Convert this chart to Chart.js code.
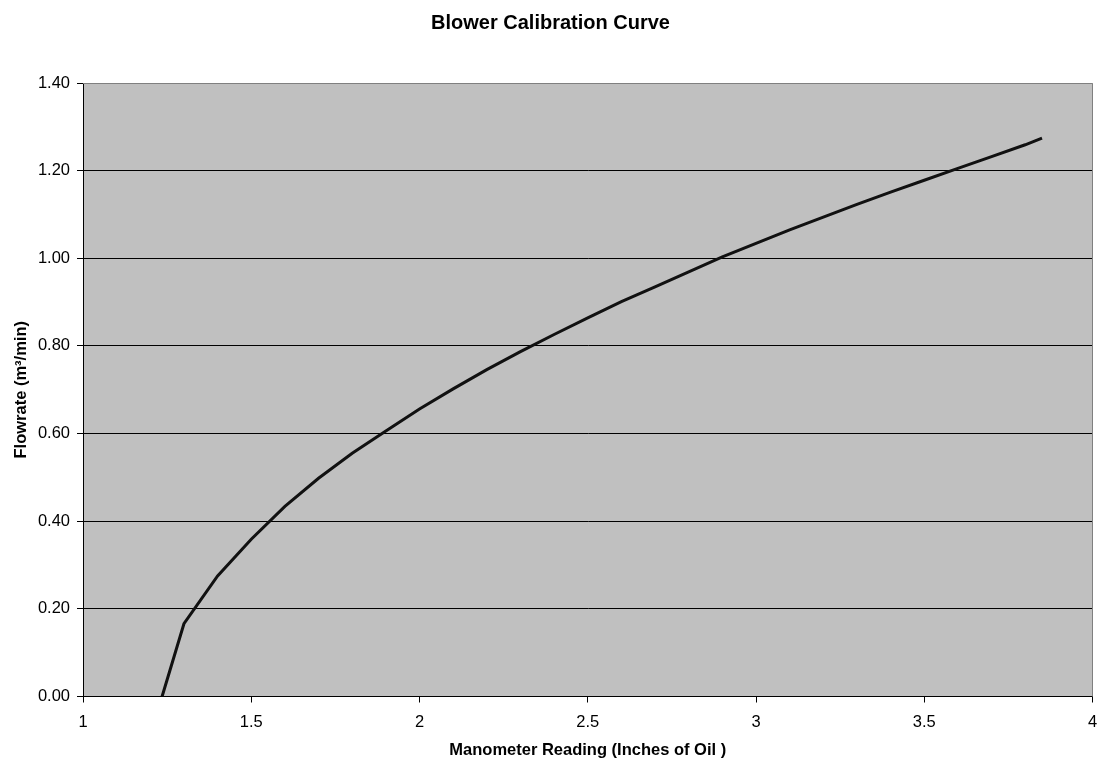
<!DOCTYPE html>
<html>
<head>
<meta charset="utf-8">
<title>Blower Calibration Curve</title>
<script src="https://cdn.jsdelivr.net/npm/chart.js@4/dist/chart.umd.min.js"></script>
<style>
  html, body { margin: 0; padding: 0; background: #ffffff; }
  #wrap { width: 1101px; height: 760px; }
</style>
</head>
<body>
<div id="wrap"><canvas id="chart" width="1101" height="760"></canvas></div>
<script>
// Manometer reading (inches of oil) and the matching blower flowrate (m3/min)
const manometerReading = [1.235, 1.3, 1.4, 1.5, 1.6, 1.7, 1.8, 1.9, 2.0, 2.1, 2.2, 2.3, 2.4, 2.5, 2.6, 2.7, 2.8, 2.9, 3.0, 3.1, 3.2, 3.3, 3.4, 3.5, 3.6, 3.7, 3.8, 3.85];
const flowrate        = [0.000, 0.166, 0.275, 0.359, 0.434, 0.498, 0.555, 0.606, 0.656, 0.702, 0.746, 0.787, 0.826, 0.864, 0.901, 0.935, 0.969, 1.003, 1.034, 1.065, 1.094, 1.123, 1.151, 1.178, 1.205, 1.232, 1.259, 1.274];

// Axis ranges and tick spacing
const xTicks = [1, 1.5, 2, 2.5, 3, 3.5, 4];
const yTicks = [0.00, 0.20, 0.40, 0.60, 0.80, 1.00, 1.20, 1.40];

const FONT = '"Liberation Sans", Arial, Helvetica, sans-serif';

const points = manometerReading.map((x, i) => ({ x: x, y: flowrate[i] }));

// Grey plot area with a grey frame on the top and right edges
const plotArea = {
  id: 'plotArea',
  beforeDraw(chart) {
    const { ctx, chartArea: a } = chart;
    ctx.save();
    ctx.fillStyle = '#c0c0c0';
    ctx.fillRect(a.left, a.top, a.right - a.left, a.bottom - a.top);
    ctx.restore();
  },
  beforeDatasetsDraw(chart) {
    const { ctx, chartArea: a } = chart;
    ctx.save();
    ctx.strokeStyle = '#808080';
    ctx.lineWidth = 1;
    ctx.beginPath();
    const r = Math.round(a.right) - 0.5;
    const t = Math.round(a.top) + 0.5;
    ctx.moveTo(a.left, t);
    ctx.lineTo(r, t);
    ctx.lineTo(r, a.bottom);
    ctx.stroke();
    ctx.restore();
  }
};

new Chart(document.getElementById('chart'), {
  type: 'scatter',
  data: {
    datasets: [{
      label: 'Flowrate',
      data: points,
      showLine: true,
      borderColor: '#111111',
      borderWidth: 3,
      pointRadius: 0,
      pointHoverRadius: 0,
      tension: 0,
      fill: false
    }]
  },
  options: {
    responsive: false,
    animation: false,
    layout: { padding: { left: 0, right: 0, top: 0, bottom: 0 } },
    plugins: {
      legend: { display: false },
      tooltip: { enabled: false },
      title: {
        display: true,
        text: 'Blower Calibration Curve',
        color: '#000000',
        font: { family: FONT, size: 20, weight: 'bold', lineHeight: 1.2 },
        padding: { top: 11, bottom: 48 }
      }
    },
    scales: {
      x: {
        type: 'linear',
        min: xTicks[0],
        max: xTicks[xTicks.length - 1],
        afterBuildTicks(scale) { scale.ticks = xTicks.map(v => ({ value: v })); },
        afterFit(scale) {
          scale.height = 63.5;
          scale.paddingLeft = 0;
          scale.paddingRight = 8.5;
        },
        ticks: {
          color: '#000000',
          padding: 10.5,
          maxRotation: 0,
          font: { family: FONT, size: 16.5 },
          callback: v => String(v)
        },
        grid: {
          drawOnChartArea: false,
          drawTicks: true,
          tickLength: 6,
          tickColor: '#000000'
        },
        border: { display: true, color: '#000000', width: 1 },
        title: {
          display: true,
          text: 'Manometer Reading (Inches of Oil )',
          color: '#000000',
          font: { family: FONT, size: 16.5, weight: 'bold', lineHeight: 1.2 },
          padding: { top: 0, bottom: 0 }
        }
      },
      y: {
        type: 'linear',
        min: yTicks[0],
        max: yTicks[yTicks.length - 1],
        afterBuildTicks(scale) { scale.ticks = yTicks.map(v => ({ value: v })); },
        afterFit(scale) { scale.width = 83; },
        ticks: {
          color: '#000000',
          padding: 7,
          font: { family: FONT, size: 16.5 },
          callback: v => Number(v).toFixed(2)
        },
        grid: {
          drawOnChartArea: true,
          drawTicks: true,
          tickLength: 6,
          color: ctx => (ctx.tick && ctx.tick.value >= yTicks[yTicks.length - 1]) ? '#808080' : '#000000',
          tickColor: '#000000',
          lineWidth: 1
        },
        border: { display: true, color: '#000000', width: 1 },
        title: {
          display: true,
          text: 'Flowrate (m\u00B3/min)',
          color: '#000000',
          font: { family: FONT, size: 16.5, weight: 'bold', lineHeight: 1.2 },
          padding: { top: 12, bottom: 0 }
        }
      }
    }
  },
  plugins: [plotArea]
});
</script>
</body>
</html>
